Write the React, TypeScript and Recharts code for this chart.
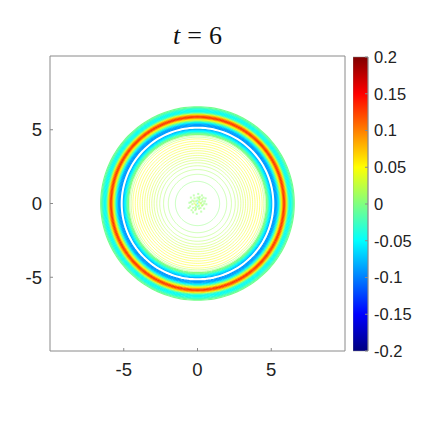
import { Bar, BarChart, Label, Scatter, ScatterChart, XAxis, YAxis } from "recharts";

// radial profile of the solution, radius -> value
const bandRadii = [
  6.56, 6.5, 6.45, 6.4, 6.35, 6.3, 6.25, 6.2, 6.15, 6.1, 6.05, 6.0, 5.95, 5.9, 5.85, 5.8, 5.75, 5.7, 5.65,
  5.6, 5.55, 5.5, 5.45, 5.4, 5.35, 5.3, 5.25, 5.03, 4.98, 4.93, 4.88, 4.83, 4.78, 4.73, 4.68,
];
const bandValues = [
  -0.005, -0.01, -0.02, -0.03, -0.04, -0.045, -0.045, -0.04, -0.025, 0, 0.03, 0.07, 0.095, 0.115, 0.13, 0.12,
  0.095, 0.065, 0.04, 0.01, -0.01, -0.04, -0.06, -0.075, -0.085, -0.09, -0.09, -0.08, -0.07, -0.06, -0.05,
  -0.035, -0.02, -0.01, 0,
];

// thin contour lines inside the wave front
const contourRadii = [
  4.6, 4.5, 4.38, 4.22, 4.06, 3.9, 3.74, 3.58, 3.42, 3.26, 3.1, 2.94, 2.76, 2.56, 2.3, 1.98, 1.5,
];
const contourValues = [
  0.01, 0.02, 0.048, 0.05, 0.05, 0.048, 0.045, 0.042, 0.04, 0.036, 0.032, 0.028, 0.024, 0.02, 0.015, 0.01,
  0.004,
];

// noisy patch at the origin
const blobX = [
  0, 0.1, -0.1, 0.2, -0.2, 0, 0, 0.1, -0.1, 0.3, -0.3, 0.35, -0.35, 0.15, -0.15, 0.5, -0.5, 0.45, -0.45,
  0.25, -0.25, 0.6, -0.55, 0.05, -0.05, 0.3, -0.3, 0.4, -0.4, 0.1, -0.2, 0.25, -0.35, 0.55, -0.6, 0.15,
  -0.1, 0.2, -0.25, 0.35, 0.45, -0.45, 0, -0.15, 0.3, 0.1,
];
const blobY = [
  0, 0.1, -0.1, 0, 0, 0.2, -0.2, -0.15, 0.15, 0.3, -0.3, -0.1, 0.2, 0.45, -0.45, 0.15, -0.2, -0.35, 0.4,
  -0.55, 0.55, -0.05, 0.05, 0.65, -0.7, 0.55, -0.6, 0.4, -0.45, -0.35, 0.35, 0.05, -0.05, 0.35, -0.3, 0.25,
  -0.35, -0.3, 0.15, 0.15, 0.0, 0.1, 0.4, -0.25, -0.15, 0.35,
];
const blobV = [
  -0.03, 0.03, 0.03, 0.03, 0.03, -0.02, -0.02, 0.015, 0.015, 0.01, 0.01, 0.012, 0.012, 0.01, 0.01, 0.006,
  0.006, 0.006, 0.006, 0.006, 0.006, 0.005, 0.005, 0.005, 0.005, 0.006, 0.006, 0.008, 0.008, 0.012, 0.012,
  0.012, 0.012, 0.005, 0.005, 0.012, 0.01, 0.008, 0.01, 0.008, 0.006, 0.006, 0.008, 0.012, 0.01, 0.008,
];

const axisTicks = [-5, 0, 5];
const colorTicks = [-0.2, -0.15, -0.1, -0.05, 0, 0.05, 0.1, 0.15, 0.2];
const jetStops = [
  { at: 0, color: "#000080" },
  { at: 0.125, color: "#0000ff" },
  { at: 0.375, color: "#00ffff" },
  { at: 0.625, color: "#ffff00" },
  { at: 0.875, color: "#ff0000" },
  { at: 1, color: "#800000" },
];
const colorRange = [{ name: "u", range: [-0.2, 0.2] }];

const AXIS_COLOR = "#8a8a8a";
const TICK_STYLE = { fill: "#222", fontFamily: "Liberation Sans", fontSize: 18.5 };
const BAR_TICK_STYLE = { fill: "#222", fontFamily: "Liberation Sans", fontSize: 16.5 };

function hex(c: string) {
  return [1, 3, 5].map((i) => parseInt(c.slice(i, i + 2), 16));
}

function jet(v: number) {
  const t = Math.min(1, Math.max(0, (v + 0.2) / 0.4));
  const i = jetStops.findIndex((s) => s.at >= t);
  if (i <= 0) return jetStops[0].color;
  const a = jetStops[i - 1];
  const b = jetStops[i];
  const f = (t - a.at) / (b.at - a.at);
  const [ca, cb] = [hex(a.color), hex(b.color)];
  return `rgb(${ca.map((n, k) => Math.round(n + (cb[k] - n) * f)).join(",")})`;
}

function circle(r: number) {
  const pts = [];
  for (let deg = 0; deg <= 360; deg += 2) {
    const a = (deg * Math.PI) / 180;
    pts.push({ x: r * Math.cos(a), y: r * Math.sin(a) });
  }
  return pts;
}

const blob = blobX.map((x, i) => ({ x, y: blobY[i], v: blobV[i] }));

function BlobCell(props: any) {
  return <rect x={props.cx - 1} y={props.cy - 1} width={2} height={2} fill={jet(props.payload.v)} fillOpacity={0.5} />;
}

function TitleLabel(props: any) {
  const { x, width, y, height } = props.viewBox;
  return (
    <text x={x + width / 2} y={y + height - 12} textAnchor="middle" fontFamily="Liberation Serif" fontSize={26} fill="#111">
      <tspan fontStyle="italic">t</tspan>
      <tspan dx={7}>=</tspan>
      <tspan dx={7}>6</tspan>
    </text>
  );
}

export default function App() {
  return (
    <div style={{ position: "absolute", left: 0, top: 0, width: 423, height: 423, background: "#fff" }}>
      <div style={{ position: "absolute", left: 0, top: 0 }}>
        <ScatterChart width={423} height={423} margin={{ top: 0, right: 0, bottom: 0, left: 0 }}>
          <XAxis
            type="number"
            dataKey="x"
            xAxisId="bottom"
            height={72}
            domain={[-10, 10]}
            ticks={axisTicks}
            stroke={AXIS_COLOR}
            tickSize={-3}
            tickMargin={15}
            tick={TICK_STYLE}
          />
          <XAxis
            type="number"
            dataKey="x"
            xAxisId="top"
            orientation="top"
            height={56}
            domain={[-10, 10]}
            ticks={axisTicks}
            stroke={AXIS_COLOR}
            tickSize={-3}
            tick={false}
          >
            <Label content={TitleLabel} />
          </XAxis>
          <YAxis
            type="number"
            dataKey="y"
            yAxisId="left"
            width={50}
            domain={[-10, 10]}
            ticks={axisTicks}
            stroke={AXIS_COLOR}
            tickSize={-3}
            tickMargin={11}
            tick={TICK_STYLE}
          />
          <YAxis
            type="number"
            dataKey="y"
            yAxisId="right"
            orientation="right"
            width={78}
            domain={[-10, 10]}
            ticks={axisTicks}
            stroke={AXIS_COLOR}
            tickSize={-3}
            tick={false}
          />
          {bandRadii.map((r, i) => (
            <Scatter
              key={`band-${r}`}
              xAxisId="bottom"
              yAxisId="left"
              data={circle(r)}
              line={{ stroke: jet(bandValues[i]), strokeWidth: 1.2 }}
              shape={() => <g />}
              isAnimationActive={false}
            />
          ))}
          {contourRadii.map((r, i) => (
            <Scatter
              key={`contour-${r}`}
              xAxisId="bottom"
              yAxisId="left"
              data={circle(r)}
              line={{ stroke: jet(contourValues[i]), strokeWidth: 0.8, strokeOpacity: 0.6 }}
              shape={() => <g />}
              isAnimationActive={false}
            />
          ))}
          <Scatter xAxisId="bottom" yAxisId="left" data={blob} shape={BlobCell} isAnimationActive={false} />
        </ScatterChart>
      </div>
      <div style={{ position: "absolute", left: 353, top: 47 }}>
        <BarChart
          width={70}
          height={314}
          data={colorRange}
          barCategoryGap={0}
          margin={{ top: 10, right: 0, bottom: 10, left: 0 }}
        >
          <defs>
            <linearGradient id="jetGradient" x1="0" y1="1" x2="0" y2="0">
              {jetStops.map((s) => (
                <stop key={s.at} offset={`${s.at * 100}%`} stopColor={s.color} />
              ))}
            </linearGradient>
          </defs>
          <XAxis dataKey="name" hide />
          <YAxis
            orientation="right"
            width={55}
            domain={[-0.2, 0.2]}
            ticks={colorTicks}
            interval={0}
            stroke={AXIS_COLOR}
            tickSize={-3}
            tickMargin={9}
            tick={BAR_TICK_STYLE}
            tickFormatter={(v: number) => String(v)}
          />
          <Bar dataKey="range" fill="url(#jetGradient)" stroke={AXIS_COLOR} strokeWidth={0.5} isAnimationActive={false} />
        </BarChart>
      </div>
    </div>
  );
}
